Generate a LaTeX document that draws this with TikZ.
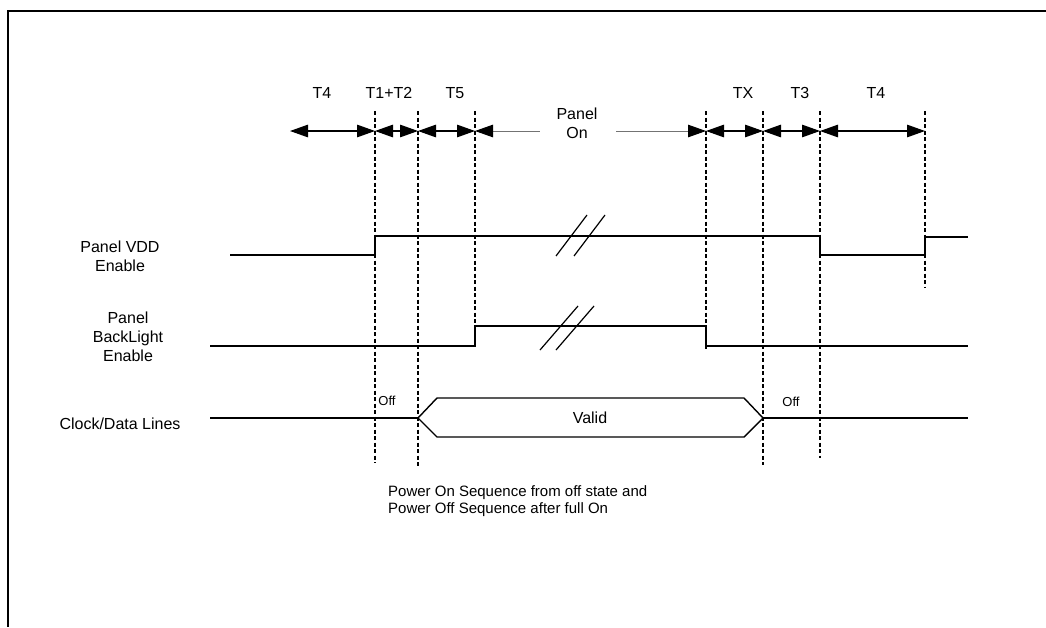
\documentclass[tikz,border=0pt]{standalone}
\usepackage{fontspec}
\setmainfont{Liberation Sans}
\usetikzlibrary{arrows.meta}
\begin{document}
\begin{tikzpicture}[x=1pt,y=-1pt,
  frame/.style={line width=2.2pt},
  guide/.style={line width=1.1pt, dash pattern=on 4pt off 2.5pt},
  sig/.style={line width=1.4pt},
  slash/.style={line width=1.2pt},
  tip/.tip={Triangle[length=18pt,width=12.5pt,color=black]},
  dim/.style={line width=1.2pt, tip-tip},
  onl/.style={line width=1pt, black!55},
  lbl/.style={font=\fontsize{16}{19}\selectfont, inner sep=0pt, align=center},
  small/.style={font=\fontsize{13}{15}\selectfont, inner sep=0pt}]
\useasboundingbox (0,0) rectangle (1046,627);
\draw[frame] (1046,11) -- (8,11) -- (8,627);

% vertical timing guides
\foreach \n/\x/\yb in {ga/375/463, gb/418/468, gc/475/346, gd/706/350, ge/763/465, gf/820/458, gg/925/287}{
  \coordinate (\n t) at (\x,111);
  \coordinate (\n b) at (\x,\yb);
  \draw[guide] (\n t) -- (\n b);
}

% dimension arrows
\foreach \n/\x in {d0/290, da/375, db/418, dc/475, dd/706, de/763, df/820, dg/925, pl/540, pr/616}{
  \coordinate (\n) at (\x,131);
}
\draw[dim] (d0) -- (da);
\draw[dim] (da) -- (db);
\draw[dim] (db) -- (dc);
\draw[dim] (dd) -- (de);
\draw[dim] (de) -- (df);
\draw[dim] (df) -- (dg);
\node[lbl] (pon) at (577,123) {Panel\\On};
\draw[onl, tip-] (dc) -- (pl);
\draw[onl, -tip] (pr) -- (dd);

% top labels
\node[lbl] (lt4a) at (322,93) {T4};
\node[lbl] (lt12) at (389,93) {T1+T2};
\node[lbl] (lt5) at (455,93) {T5};
\node[lbl] (ltx) at (743,93) {TX};
\node[lbl] (lt3) at (800,93) {T3};
\node[lbl] (lt4b) at (876,93) {T4};

% signal names
\node[lbl] (nvdd) at (120,256) {Panel VDD\\Enable};
\node[lbl] (nbl) at (128,337) {Panel\\BackLight\\Enable};
\node[lbl] (nclk) at (120,424) {Clock/Data Lines};

% Panel VDD
\draw[sig] (230,255) -- (375,255) -- (375,236) -- (820,236) -- (820,255) -- (925,255) -- (925,237) -- (968,237);
\draw[slash] (556,256) -- (587,215);
\draw[slash] (574,256) -- (605,215);

% Backlight
\draw[sig] (210,346) -- (475,346) -- (475,326) -- (706,326) -- (706,346) -- (968,346);
\draw[slash] (540,350) -- (578,306);
\draw[slash] (556,350) -- (594,306);

% Clock / data
\draw[sig] (210,418) -- (418,418);
\draw[sig] (418,418) -- (437,398) -- (744,398) -- (763,418) -- (744,437) -- (437,437) -- cycle;
\draw[sig] (763,418) -- (968,418);
\node[lbl] (valid) at (590,418) {Valid};
\node[small] (off1) at (387,401) {Off};
\node[small] (off2) at (791,402) {Off};

% caption
\node[lbl, align=left, anchor=north west, font=\fontsize{15}{17}\selectfont] (cap) at (388,485)
  {Power On Sequence from off state and\\Power Off Sequence after full On};
\end{tikzpicture}
\end{document}
